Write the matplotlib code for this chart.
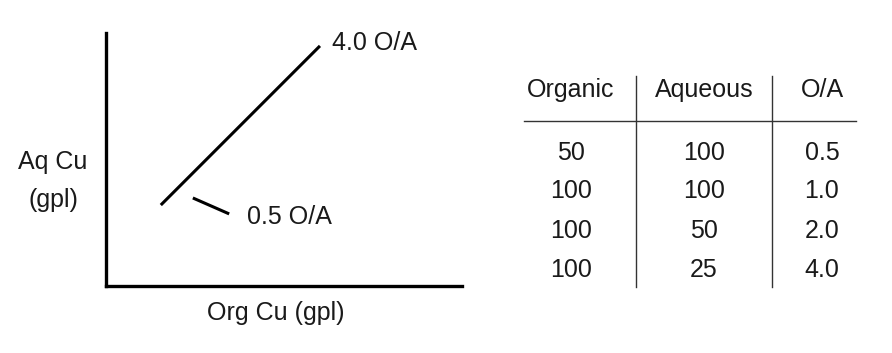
import matplotlib.pyplot as plt

plt.rcParams['font.family'] = ['Liberation Sans', 'DejaVu Sans']

# schematic operating line (axis fractions, no real scale)
line_x = [0.154, 0.601]
line_y = [0.32, 0.949]
leader_x = [0.244, 0.346]
leader_y = [0.348, 0.285]
label_hi = "4.0 O/A"
label_lo = "0.5 O/A"

# table data
headers = ["Organic", "Aqueous", "O/A"]
organic = ["50", "100", "100", "100"]
aqueous = ["100", "100", "50", "25"]
ratio = ["0.5", "1.0", "2.0", "4.0"]

txt = '#1a1a1a'
fs = 18
fig = plt.figure(figsize=(8.92, 3.53), dpi=100)

W, H = 892, 353
ax = fig.add_axes([106 / W, (H - 286) / H, 356 / W, 253 / H])
ax.set_xlim(0, 1)
ax.set_ylim(0, 1)
for s in ['top', 'right']:
    ax.spines[s].set_visible(False)
for s in ['left', 'bottom']:
    ax.spines[s].set_linewidth(2.4)
    ax.spines[s].set_color('black')
ax.set_xticks([])
ax.set_yticks([])

ax.plot(line_x, line_y, color='black', lw=2.2, solid_capstyle='butt')
ax.plot(leader_x, leader_y, color='black', lw=2.2, solid_capstyle='butt')

# text overlay in pixel coordinates
tb = fig.add_axes([0, 0, 1, 1])
tb.set_xlim(0, W)
tb.set_ylim(H, 0)
tb.axis('off')
tb.patch.set_alpha(0)

tb.text(332, 50, label_hi, fontsize=fs, va='baseline', color=txt)
tb.text(247, 224, label_lo, fontsize=fs, va='baseline', color=txt)
tb.text(53, 169, "Aq Cu", fontsize=fs, ha='center', va='baseline', color=txt)
tb.text(53, 207, "(gpl)", fontsize=fs, ha='center', va='baseline', color=txt)
tb.text(276, 320, "Org Cu (gpl)", fontsize=fs, ha='center', va='baseline', color=txt)

col_x = [571, 704, 822]
header_y = 97
row_y = [160, 198, 238, 277]
for cx, h in zip(col_x, headers):
    tb.text(cx, header_y, h, fontsize=fs, ha='center', va='baseline', color=txt)
for cx, col in zip(col_x, [organic, aqueous, ratio]):
    for ry, v in zip(row_y, col):
        tb.text(cx, ry, v, fontsize=fs, ha='center', va='baseline', color=txt)
tb.plot([524, 856], [121, 121], color='#333333', lw=1)
for vx in [636, 772]:
    tb.plot([vx, vx], [76, 287], color='#333333', lw=1)

fig.savefig('out.png', dpi=100)
